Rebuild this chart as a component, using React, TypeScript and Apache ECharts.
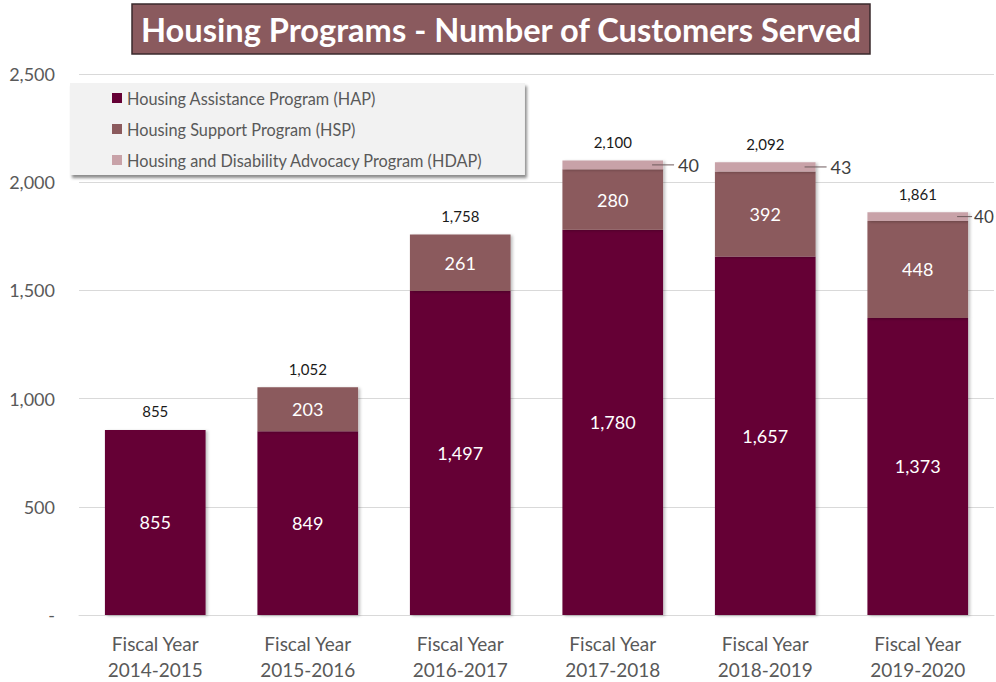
import React, { useEffect, useRef } from "react";
import * as echarts from "echarts";

const categories = [
  "Fiscal Year\n2014-2015",
  "Fiscal Year\n2015-2016",
  "Fiscal Year\n2016-2017",
  "Fiscal Year\n2017-2018",
  "Fiscal Year\n2018-2019",
  "Fiscal Year\n2019-2020",
];
const hap = [855, 849, 1497, 1780, 1657, 1373];
const hsp = [0, 203, 261, 280, 392, 448];
const hdap = [0, 0, 0, 40, 43, 40];
const yTicks = { min: 0, max: 2500, interval: 500 };

const seriesNames = [
  "Housing Assistance Program (HAP)",
  "Housing Support Program (HSP)",
  "Housing and Disability Advocacy Program (HDAP)",
];
const colors = ["#650035", "#8B5A5D", "#C8A2A8"];
const FONT = "Lato, 'Open Sans', sans-serif";

const fmt = (v: number) => v.toLocaleString("en-US");

export default function App() {
  const ref = useRef<HTMLDivElement>(null);
  useEffect(() => {
    if (!ref.current) return;
    const chart = echarts.init(ref.current, undefined, { renderer: "svg" });
    const totals = hap.map((v, i) => v + hsp[i] + hdap[i]);
    const barShadow = {
      shadowBlur: 3,
      shadowOffsetX: 2,
      shadowOffsetY: 1,
      shadowColor: "rgba(0,0,0,0.25)",
    };
    const inLabel = {
      show: true,
      position: "inside",
      color: "#ffffff",
      fontSize: 18,
      fontFamily: FONT,
      formatter: (p: any) => (p.value ? fmt(p.value) : ""),
    };
    const lastIdx = hdap.length - 1;
    chart.setOption({
      animation: false,
      textStyle: { fontFamily: FONT },
      title: {
        text: "Housing Programs - Number of Customers Served",
        left: 132,
        top: 4,
        backgroundColor: "#8A5A5E",
        borderColor: "#3a2a2c",
        borderWidth: 1.5,
        padding: [7, 8, 6, 9],
        textStyle: {
          color: "#ffffff",
          fontSize: 32.6,
          fontWeight: "bold",
          fontFamily: FONT,
          lineHeight: 37,
        },
      },
      legend: {
        data: seriesNames,
        orient: "vertical",
        left: 70,
        top: 83,
        backgroundColor: "#f2f2f2",
        padding: [7, 42, 7, 42],
        itemGap: 15,
        itemWidth: 10,
        itemHeight: 10,
        icon: "rect",
        shadowColor: "rgba(0,0,0,0.45)",
        shadowBlur: 3,
        shadowOffsetX: 2,
        shadowOffsetY: 3,
        textStyle: { color: "#595959", fontSize: 16.3, fontFamily: FONT },
      },
      grid: { left: 79, right: 2, top: 74, bottom: 56 },
      xAxis: {
        type: "category",
        data: categories,
        axisTick: { show: false },
        axisLine: { lineStyle: { color: "#d9d9d9" } },
        axisLabel: {
          color: "#595959",
          fontSize: 19,
          lineHeight: 26,
          margin: 15,
          fontFamily: FONT,
        },
      },
      yAxis: {
        type: "value",
        min: yTicks.min,
        max: yTicks.max,
        interval: yTicks.interval,
        axisLine: { show: false },
        axisTick: { show: false },
        splitLine: { lineStyle: { color: "#d9d9d9" } },
        axisLabel: {
          color: "#595959",
          fontSize: 18,
          margin: 24,
          fontFamily: FONT,
          formatter: (v: number) => (v === 0 ? "-" : fmt(v)),
        },
      },
      series: [
        {
          name: seriesNames[0],
          type: "bar",
          stack: "t",
          barWidth: "66%",
          data: hap,
          itemStyle: { color: colors[0], ...barShadow },
          label: inLabel,
        },
        {
          name: seriesNames[1],
          type: "bar",
          stack: "t",
          data: hsp,
          itemStyle: { color: colors[1], ...barShadow },
          label: inLabel,
        },
        {
          name: seriesNames[2],
          type: "bar",
          stack: "t",
          data: hdap.map((v, i) =>
            i === lastIdx
              ? {
                  value: v,
                  label: {
                    rich: {
                      l: { width: 15, height: 1, backgroundColor: "#6e5a5c" },
                      v: { fontSize: 17, color: "#404040", padding: [0, 0, 0, 2], fontFamily: FONT },
                    },
                  },
                }
              : v
          ),
          itemStyle: { color: colors[2], ...barShadow },
          label: {
            show: true,
            position: "right",
            distance: 5,
            offset: [-16, 0],
            formatter: (p: any) => (p.value ? `{l|}{v|${fmt(p.value)}}` : ""),
            rich: {
              l: { width: 22, height: 1, backgroundColor: "#6e5a5c" },
              v: {
                fontSize: 18,
                color: "#404040",
                padding: [0, 0, 0, 4],
                fontFamily: FONT,
              },
            },
          },
        },
        {
          name: "Total",
          type: "bar",
          stack: "t",
          data: totals.map(() => 0),
          itemStyle: { color: "transparent" },
          label: {
            show: true,
            position: "top",
            distance: 11,
            color: "#1a1a1a",
            fontSize: 15,
            fontFamily: FONT,
            formatter: (p: any) => fmt(totals[p.dataIndex]),
          },
          tooltip: { show: false },
        },
      ],
    });
    return () => chart.dispose();
  }, []);
  return (
    <div
      ref={ref}
      style={{ position: "fixed", left: 0, top: 0, width: 996, height: 682, background: "#fff" }}
    />
  );
}
